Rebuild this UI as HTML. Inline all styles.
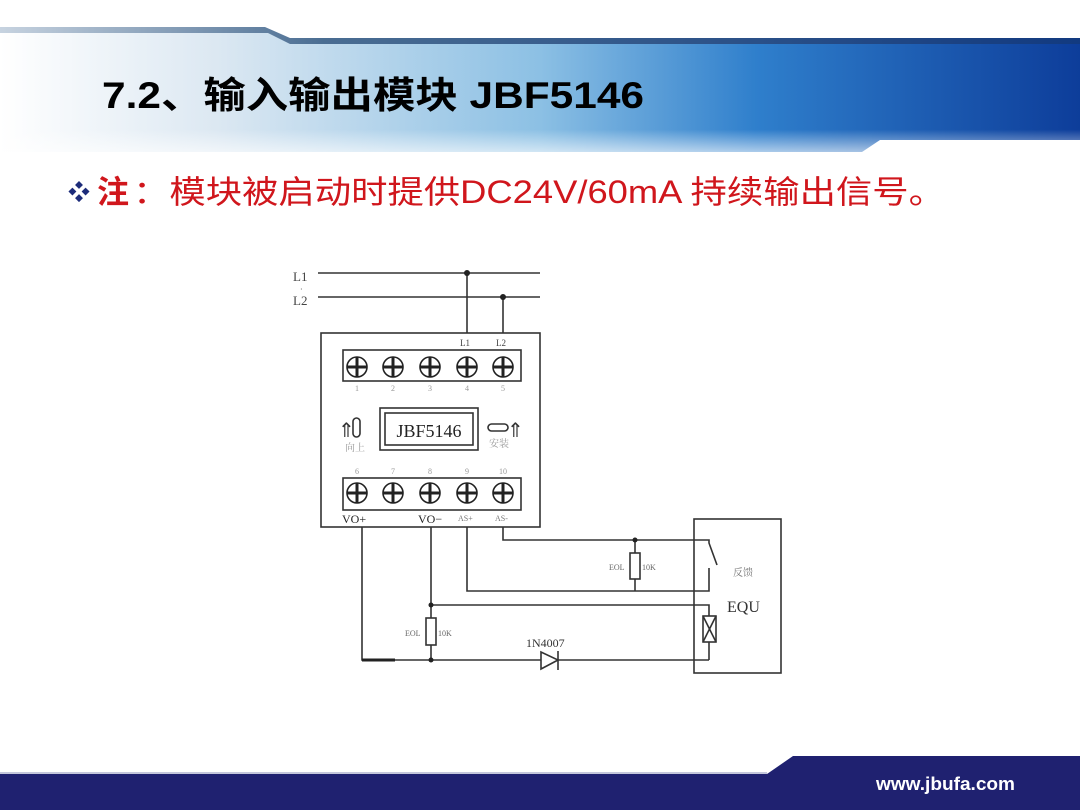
<!DOCTYPE html>
<html><head><meta charset="utf-8"><style>
html,body{margin:0;padding:0;background:#fff;}
body{width:1080px;height:810px;overflow:hidden;position:relative;font-family:"Liberation Sans","Noto Sans CJK SC",sans-serif;}
svg{position:absolute;left:0;top:0;}
</style></head><body>
<svg width="1080" height="810" viewBox="0 0 1080 810" xmlns="http://www.w3.org/2000/svg">
<defs>
<linearGradient id="bg" x1="0" x2="1" y1="0" y2="0">
<stop offset="0" stop-color="#ffffff"/>
<stop offset="0.2" stop-color="#dce8f2"/>
<stop offset="0.5" stop-color="#8cc0e4"/>
<stop offset="0.7" stop-color="#2f7fcc"/>
<stop offset="1" stop-color="#0d3d9a"/>
</linearGradient>
<linearGradient id="tb" x1="0" x2="1">
<stop offset="0" stop-color="#c7d3e0"/>
<stop offset="0.3" stop-color="#4a6d92"/>
<stop offset="1" stop-color="#123a80"/>
</linearGradient>
<linearGradient id="fade" x1="0" x2="0" y1="0" y2="1">
<stop offset="0" stop-color="#fff" stop-opacity="0"/>
<stop offset="0.8" stop-color="#fff" stop-opacity="0"/>
<stop offset="1" stop-color="#fff" stop-opacity="0.6"/>
</linearGradient>
</defs>
<polygon points="0,31 270,31 292,42 1080,42 1080,140 880,140 862,152 0,152" fill="url(#bg)"/>
<polygon points="0,27 265,27 290,38 1080,38 1080,44 290,44 268,33 0,33" fill="url(#tb)"/>
<rect x="0" y="40" width="1080" height="112" fill="url(#fade)"/>
<text x="102" y="108" font-size="37" font-weight="bold" fill="#000" textLength="542" lengthAdjust="spacingAndGlyphs">7.2、输入输出模块 JBF5146</text>
<text x="68" y="200" font-size="22" fill="#1d2c7a">❖</text>
<text x="97" y="203" font-size="32" fill="#d0161c" font-weight="bold">注</text>
<text x="133" y="203" font-size="32" fill="#d0161c" textLength="812" lengthAdjust="spacingAndGlyphs">：模块被启动时提供DC24V/60mA 持续输出信号。</text>
<polygon points="0,774 767,774 793,756 1080,756 1080,810 0,810" fill="#1f2170"/>
<line x1="0" y1="773" x2="767" y2="773" stroke="#8a8fb8" stroke-width="1"/>
<text x="876" y="790" font-size="18" font-weight="bold" fill="#fff" textLength="139" lengthAdjust="spacingAndGlyphs">www.jbufa.com</text>
<g stroke="#333" stroke-width="1.6" fill="none">
<line x1="318" y1="273" x2="540" y2="273"/>
<line x1="318" y1="297" x2="540" y2="297"/>
<line x1="467" y1="273" x2="467" y2="333"/>
<line x1="503" y1="297" x2="503" y2="333"/>
<rect x="321" y="333" width="219" height="194"/>
<rect x="343" y="350" width="178" height="31"/>
<rect x="343" y="478" width="178" height="32"/>
<rect x="380" y="408" width="98" height="42"/>
<rect x="385" y="413" width="88" height="32"/>
<polyline points="362,527 362,660 541,660"/>
<line x1="558" y1="660" x2="709" y2="660"/>
<polyline points="431,527 431,618"/>
<rect x="426" y="618" width="10" height="27"/>
<line x1="431" y1="645" x2="431" y2="660"/>
<polyline points="431,605 709,605 709,616"/>
<rect x="703" y="616" width="13" height="26"/>
<line x1="703" y1="616" x2="716" y2="642"/>
<line x1="716" y1="616" x2="703" y2="642"/>
<line x1="709" y1="642" x2="709" y2="660"/>
<polyline points="467,527 467,591 709,591 709,568"/>
<polyline points="503,527 503,540 709,540 709,543 717,565"/>
<line x1="635" y1="540" x2="635" y2="553"/>
<rect x="630" y="553" width="10" height="26"/>
<line x1="635" y1="579" x2="635" y2="591"/>
<polygon points="541,652 541,669 558,660"/>
<line x1="558" y1="651" x2="558" y2="670"/>
<rect x="694" y="519" width="87" height="154"/>
<rect x="353" y="418" width="7" height="19" rx="3.5"/>
<rect x="488" y="424" width="20" height="7" rx="3.5"/>
</g>
<line x1="362" y1="660" x2="395" y2="660" stroke="#222" stroke-width="3"/>
<g fill="#222">
<circle cx="467" cy="273" r="3"/><circle cx="503" cy="297" r="3"/>
<circle cx="635" cy="540" r="2.5"/><circle cx="431" cy="605" r="2.5"/><circle cx="431" cy="660" r="2.5"/>
</g>
<g stroke="#222" stroke-width="1.6" fill="none">
<g id="s"><circle cx="357" cy="367" r="10"/><line x1="347" y1="367" x2="367" y2="367" stroke-width="3"/><line x1="357" y1="357" x2="357" y2="377" stroke-width="3"/></g>
<use href="#s" x="36"/><use href="#s" x="73"/><use href="#s" x="110"/><use href="#s" x="146"/>
<use href="#s" y="126"/><use href="#s" x="36" y="126"/><use href="#s" x="73" y="126"/><use href="#s" x="110" y="126"/><use href="#s" x="146" y="126"/>
</g>
<g font-family="'Liberation Serif','Noto Serif CJK SC',serif" fill="#444">
<text x="293" y="281" font-size="13">L1</text>
<text x="293" y="305" font-size="13">L2</text>
<text x="300" y="292" font-size="8">·</text>
<text x="460" y="346" font-size="9">L1</text>
<text x="496" y="346" font-size="9">L2</text>
<g font-size="8" fill="#999" text-anchor="middle">
<text x="357" y="391">1</text><text x="393" y="391">2</text><text x="430" y="391">3</text><text x="467" y="391">4</text><text x="503" y="391">5</text>
<text x="357" y="474">6</text><text x="393" y="474">7</text><text x="430" y="474">8</text><text x="467" y="474">9</text><text x="503" y="474">10</text>
</g>
<text x="429" y="437" font-size="18" fill="#222" text-anchor="middle">JBF5146</text>
<text x="338" y="437" font-size="20" fill="#333">⇑</text>
<text x="507" y="437" font-size="20" fill="#333">⇑</text>
<text x="345" y="451" font-size="10" fill="#999">向上</text>
<text x="489" y="447" font-size="10" fill="#999">安装</text>
<text x="342" y="523" font-size="12" fill="#222">VO+</text>
<text x="418" y="523" font-size="12" fill="#222">VO−</text>
<text x="458" y="521" font-size="8" fill="#777">AS+</text>
<text x="495" y="521" font-size="8" fill="#777">AS-</text>
<text x="609" y="570" font-size="8" fill="#666">EOL</text>
<text x="642" y="570" font-size="8" fill="#666">10K</text>
<text x="405" y="636" font-size="8" fill="#666">EOL</text>
<text x="438" y="636" font-size="8" fill="#666">10K</text>
<text x="526" y="647" font-size="12" fill="#333">1N4007</text>
<text x="733" y="576" font-size="10" fill="#777">反馈</text>
<text x="727" y="612" font-size="16" fill="#333">EQU</text>
</g>
</svg>
</body></html>
